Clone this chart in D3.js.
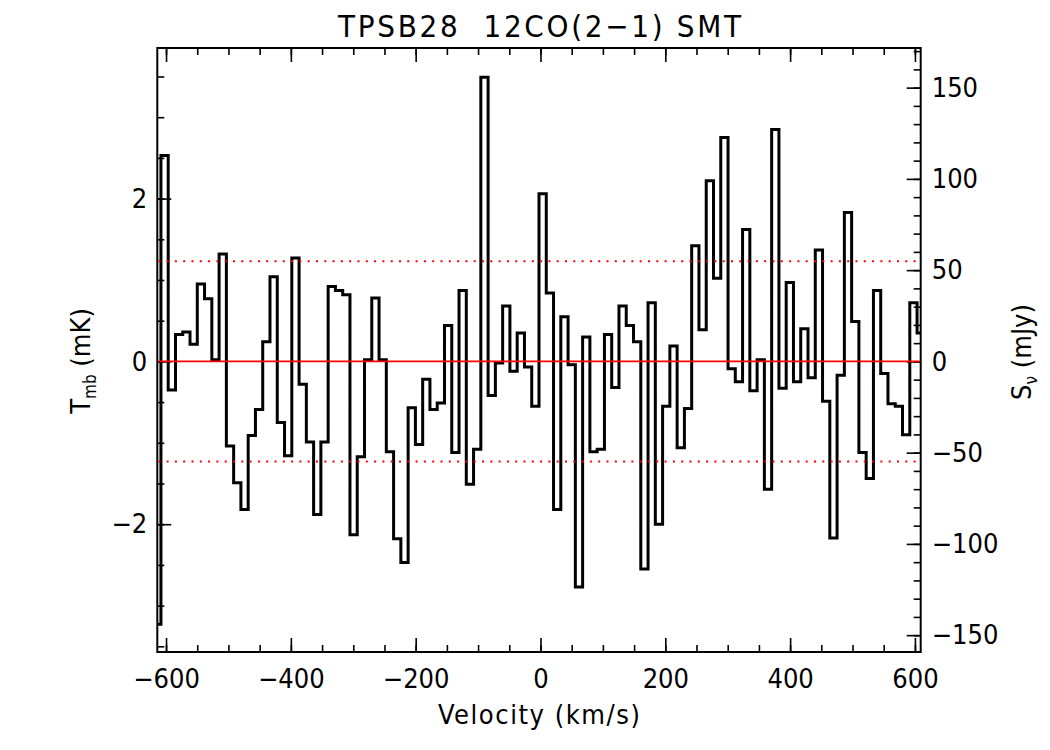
<!DOCTYPE html>
<html>
<head>
<meta charset="utf-8">
<script src="https://cdn.jsdelivr.net/npm/d3@7/dist/d3.min.js"></script>
<style>
body { margin: 0; background: #fff; }
text { font-family: "Liberation Sans Narrow", "DejaVu Sans Condensed", "Liberation Sans", sans-serif; fill: #000; }
</style>
</head>
<body>
<script>
// spectral channel grid (km/s)
var V0 = -614.0
var DV = 11.65

// main beam temperature per channel (mK)
var tmb = [-3.23,
  2.53, -0.35, 0.33, 0.36, 0.21, 0.95, 0.77, 0.02, 1.32, -1.04,
  -1.49, -1.82, -0.91, -0.59, 0.24, 1.04, -0.75, -1.16, 1.27, -0.28,
  -0.99, -1.88, -0.99, 0.92, 0.87, 0.82, -2.13, -1.17, 0.02, 0.78,
  0.02, -1.11, -2.18, -2.47, -0.57, -1.02, -0.22, -0.59, -0.51, 0.44,
  -1.12, 0.87, -1.51, -1.08, 3.49, -0.42, -0.02, 0.68, -0.12, 0.35,
  -0.07, -0.55, 2.06, 0.84, -1.82, 0.55, -0.04, -2.77, 0.30, -1.11,
  -1.08, 0.33, -0.32, 0.68, 0.44, 0.24, -2.55, 0.72, -2.00, -0.55,
  0.19, -1.06, -0.58, 1.42, 0.39, 2.22, 1.02, 2.75, -0.09, -0.25,
  1.62, -0.36, 0.02, -1.57, 2.85, -0.33, 0.97, -0.25, 0.40, -0.20,
  1.37, -0.49, -2.17, -0.17, 1.83, 0.49, -1.12, -1.44, 0.87, -0.15,
  -0.52, -0.55, -0.90, 0.72,
  0.35]

var RMS = 1.23          // mK, dotted lines
var JY_PER_K = 44.6     // mJy per mK
var YRANGE = [-3.57, 3.85]

var xMajor = [-600, -400, -200, 0, 200, 400, 600]
var yMajor = [-2, 0, 2]
var sMajor = [-150, -100, -50, 0, 50, 100, 150]

WIDTH = 1050
HEIGHT = 750
LEFT = 157.3
RIGHT = 920.7
TOP = 48
BOTTOM = 652

var velocity = tmb.map(function(d, i) { return V0 + i * DV })
var spectrum = tmb.map(function(d, i) { return [velocity[i], d] })

var svg = d3.select("body").append("svg")
  .attr("width", WIDTH).attr("height", HEIGHT)

var xScale = d3.scaleLinear()
  .domain([velocity[0], velocity[velocity.length - 1]])
  .range([LEFT, RIGHT])
var yScale = d3.scaleLinear().domain(YRANGE).range([BOTTOM, TOP])
var sScale = d3.scaleLinear()
  .domain([YRANGE[0] * JY_PER_K, YRANGE[1] * JY_PER_K])
  .range([BOTTOM, TOP])

function minorTicks(lo, hi, step) {
  var out = []
  for (var v = lo; v <= hi + 1e-9; v += step) out.push(+v.toFixed(3))
  return out
}
var fmt = function(d) { return d < 0 ? "\u2212" + Math.abs(d) : "" + d }

function drawAxis(axisFn, scale, pos, major, minor, labels, pad) {
  var gMinor = svg.append("g").attr("transform", pos)
    .call(axisFn(scale).tickValues(minor).tickSize(-7).tickFormat(""))
  var gMajor = svg.append("g").attr("transform", pos)
    .call(axisFn(scale).tickValues(major).tickSize(-14).tickPadding(pad)
      .tickFormat(labels ? fmt : ""))
  ;[gMinor, gMajor].forEach(function(g) {
    g.select(".domain").remove()
    g.selectAll("line").attr("stroke", "#000").attr("stroke-width", 1.6)
    g.selectAll("text").attr("font-size", 27).attr("fill", "#000")
  })
}

var xMinor = minorTicks(-600, 600, 50)
drawAxis(d3.axisBottom, xScale, "translate(0," + BOTTOM + ")", xMajor, xMinor, true, 17)
drawAxis(d3.axisTop, xScale, "translate(0," + TOP + ")", xMajor, xMinor, false, 0)
drawAxis(d3.axisLeft, yScale, "translate(" + LEFT + ",0)", yMajor, minorTicks(-3.5, 3.5, 0.5), true, 10)
drawAxis(d3.axisRight, sScale, "translate(" + RIGHT + ",0)", sMajor, minorTicks(-150, 170, 10), true, 11)

// plot frame
svg.append("rect")
  .attr("x", LEFT).attr("y", TOP)
  .attr("width", RIGHT - LEFT).attr("height", BOTTOM - TOP)
  .attr("fill", "none").attr("stroke", "#000").attr("stroke-width", 2)

svg.append("clipPath").attr("id", "plotclip")
  .append("rect").attr("x", LEFT).attr("y", TOP)
  .attr("width", RIGHT - LEFT).attr("height", BOTTOM - TOP)

// histogram-style spectrum
var line = d3.line()
  .x(function(d) { return xScale(d[0]) })
  .y(function(d) { return yScale(d[1]) })
  .curve(d3.curveStep)
svg.append("path").datum(spectrum)
  .attr("clip-path", "url(#plotclip)")
  .attr("d", line)
  .attr("fill", "none").attr("stroke", "#000")
  .attr("stroke-width", 3).attr("stroke-linejoin", "miter")

// baseline and noise levels
var refLines = [[0, "none", 1.8], [RMS, "2 6.3", 2], [-RMS, "2 6.3", 2]]
refLines.forEach(function(r) {
  svg.append("line")
    .attr("x1", LEFT + 1).attr("x2", RIGHT - 1)
    .attr("y1", yScale(r[0])).attr("y2", yScale(r[0]))
    .attr("stroke", "#ff0000").attr("stroke-width", r[2])
    .attr("stroke-dasharray", r[1])
})

// titles
svg.append("text").attr("x", 338).attr("y", 37)
  .attr("font-size", 31)
  .attr("textLength", 403).attr("lengthAdjust", "spacing")
  .style("white-space", "pre")
  .text("TPSB28  12CO(2\u22121) SMT")

svg.append("text").attr("x", 438).attr("y", 724)
  .attr("font-size", 27)
  .attr("textLength", 202).attr("lengthAdjust", "spacing")
  .text("Velocity (km/s)")

var yl = svg.append("text")
  .attr("transform", "translate(90," + 361 + ")rotate(-90)")
  .attr("text-anchor", "middle").attr("font-size", 27)
yl.append("tspan").text("T")
yl.append("tspan").attr("font-size", 17).attr("dy", 6).text("mb")
yl.append("tspan").attr("dy", -6).text(" (mK)")

var sl = svg.append("text")
  .attr("transform", "translate(1031," + 352 + ")rotate(-90)")
  .attr("text-anchor", "middle").attr("font-size", 27)
sl.append("tspan").text("S")
sl.append("tspan").attr("font-size", 17).attr("dy", 6).text("\u03bd")
sl.append("tspan").attr("dy", -6).text(" (mJy)")
</script>
</body>
</html>
